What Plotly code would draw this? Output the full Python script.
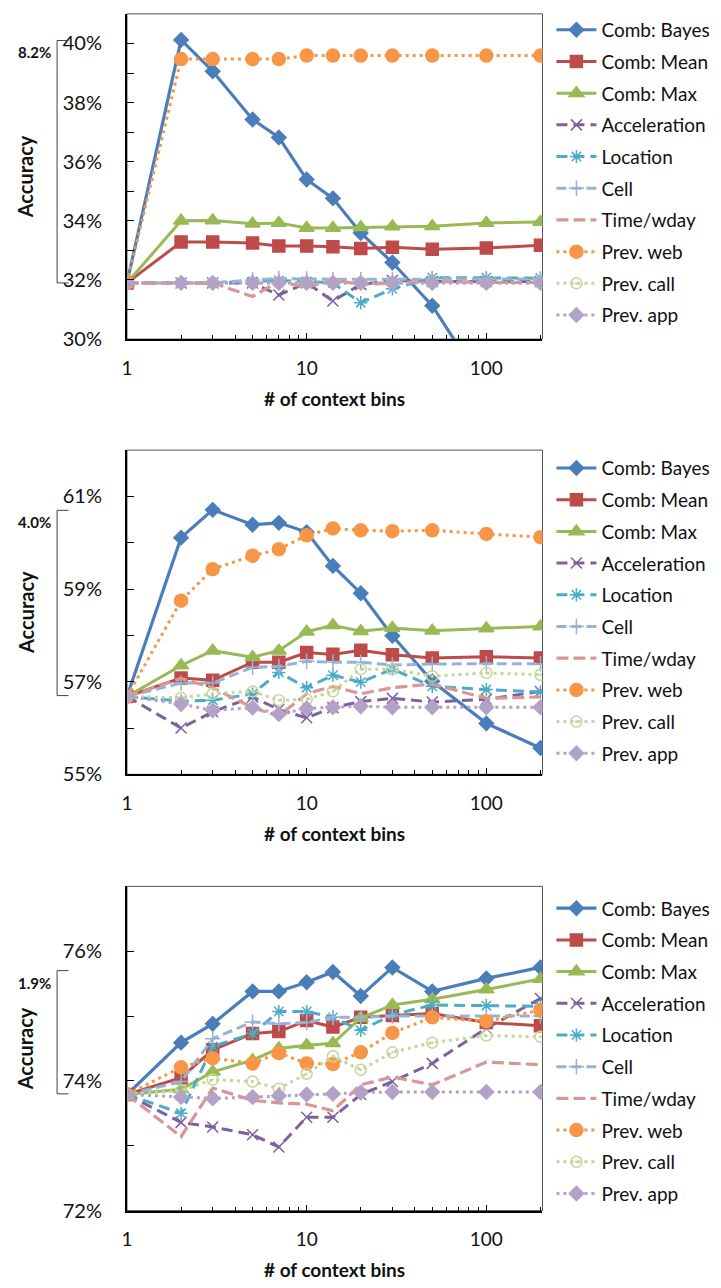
import plotly.graph_objects as go

# number of context bins (x positions shared by all panels)
bins = [1, 2, 3, 5, 7, 10, 14, 20, 30, 50, 100, 200]

series_names = ["Comb: Bayes", "Comb: Mean", "Comb: Max", "Acceleration", "Location",
                "Cell", "Time/wday", "Prev. web", "Prev. call", "Prev. app"]

# ---- panel 1 accuracy (%) ----
bayes_1 = [31.9, 40.12, 39.06, 37.43, 36.82, 35.40, 34.76, 33.59, 32.59, 31.13, 28.3, 26.0]
mean_1 = [31.9, 33.28, 33.28, 33.25, 33.15, 33.15, 33.12, 33.06, 33.11, 33.04, 33.08, 33.17]
max_1 = [31.9, 34.00, 34.01, 33.90, 33.93, 33.76, 33.76, 33.78, 33.81, 33.82, 33.93, 33.96]
accel_1 = [31.9, 31.90, 31.90, 31.90, 31.49, 31.90, 31.29, 31.85, 31.98, 31.95, 31.95, 31.95]
loc_1 = [31.9, 31.90, 31.90, 31.95, 31.98, 31.95, 31.90, 31.23, 31.70, 32.08, 32.08, 32.06]
cell_1 = [31.9, 31.90, 31.90, 32.00, 32.05, 32.03, 32.02, 32.02, 32.02, 32.03, 32.03, 32.03]
time_1 = [31.9, 31.90, 31.90, 31.44, 31.95, 31.75, 32.00, 31.85, 31.90, 31.95, 31.92, 31.92]
web_1 = [31.9, 39.47, 39.47, 39.47, 39.47, 39.59, 39.59, 39.59, 39.59, 39.59, 39.59, 39.59]
call_1 = [31.9, 31.90, 31.90, 31.90, 31.90, 31.90, 31.90, 31.90, 31.90, 31.90, 31.90, 31.90]
app_1 = [31.9, 31.90, 31.90, 31.90, 31.90, 31.90, 31.90, 31.90, 31.90, 31.90, 31.90, 31.90]

# ---- panel 2 accuracy (%) ----
bayes_2 = [56.68, 60.11, 60.71, 60.39, 60.43, 60.23, 59.50, 58.91, 57.99, 57.01, 56.10, 55.57]
mean_2 = [56.68, 57.08, 57.03, 57.42, 57.42, 57.63, 57.59, 57.68, 57.58, 57.51, 57.54, 57.51]
max_2 = [56.68, 57.35, 57.67, 57.53, 57.67, 58.08, 58.22, 58.09, 58.16, 58.10, 58.15, 58.19]
accel_2 = [56.68, 56.00, 56.35, 56.67, 56.40, 56.22, 56.44, 56.57, 56.64, 56.56, 56.62, 56.79]
loc_2 = [56.68, 56.58, 56.60, 56.74, 57.20, 56.87, 57.14, 56.99, 57.27, 56.90, 56.83, 56.78]
cell_2 = [56.68, 56.97, 56.97, 57.31, 57.33, 57.44, 57.42, 57.42, 57.36, 57.38, 57.39, 57.39]
time_2 = [56.68, 57.07, 56.87, 56.44, 56.26, 56.74, 56.90, 56.74, 56.87, 56.95, 56.64, 56.67]
web_2 = [56.68, 58.75, 59.43, 59.72, 59.86, 60.16, 60.31, 60.27, 60.25, 60.27, 60.19, 60.12]
call_2 = [56.68, 56.65, 56.74, 56.79, 56.60, 56.62, 56.79, 57.27, 57.27, 57.12, 57.19, 57.15]
app_2 = [56.68, 56.52, 56.38, 56.44, 56.30, 56.42, 56.45, 56.47, 56.45, 56.45, 56.45, 56.45]

# ---- panel 3 accuracy (%) ----
bayes_3 = [73.79, 74.59, 74.88, 75.38, 75.38, 75.52, 75.68, 75.31, 75.75, 75.38, 75.58, 75.75]
mean_3 = [73.79, 74.05, 74.48, 74.73, 74.76, 74.93, 74.83, 74.98, 75.01, 75.04, 74.90, 74.85]
max_3 = [73.79, 73.87, 74.14, 74.32, 74.50, 74.55, 74.58, 74.97, 75.17, 75.26, 75.41, 75.57]
accel_3 = [73.79, 73.36, 73.29, 73.17, 72.98, 73.44, 73.44, 73.79, 73.99, 74.27, 74.81, 75.27]
loc_3 = [73.79, 73.50, 74.53, 74.73, 75.07, 75.07, 74.98, 74.78, 75.02, 75.17, 75.16, 75.15]
cell_3 = [73.79, 73.99, 74.65, 74.91, 74.88, 74.90, 74.98, 74.98, 75.00, 75.00, 75.00, 75.00]
time_3 = [73.79, 73.14, 73.89, 73.70, 73.66, 73.64, 73.54, 73.94, 74.06, 73.94, 74.29, 74.25]
web_3 = [73.79, 74.21, 74.35, 74.27, 74.43, 74.27, 74.26, 74.44, 74.74, 74.98, 74.92, 75.09]
call_3 = [73.79, 73.85, 74.02, 73.99, 73.88, 74.11, 74.38, 74.17, 74.44, 74.59, 74.70, 74.68]
app_3 = [73.79, 73.75, 73.73, 73.75, 73.77, 73.79, 73.80, 73.82, 73.83, 73.83, 73.83, 73.83]

# y ranges, labelled ticks and the gain bracket of each panel
y_ranges = [(30, 41), (55, 62), (72, 77)]
y_major = [[30, 32, 34, 36, 38, 40], [55, 57, 59, 61], [72, 74, 76]]
gain_base = [31.9, 56.7, 73.8]
gain_value = [8.2, 4.0, 1.9]

panels = [
    [bayes_1, mean_1, max_1, accel_1, loc_1, cell_1, time_1, web_1, call_1, app_1],
    [bayes_2, mean_2, max_2, accel_2, loc_2, cell_2, time_2, web_2, call_2, app_2],
    [bayes_3, mean_3, max_3, accel_3, loc_3, cell_3, time_3, web_3, call_3, app_3],
]

# line / marker styling per series
styles = [
    dict(color="#4A7EBB", dash="solid", width=3.2, symbol="diamond", size=11),
    dict(color="#BE4B48", dash="solid", width=3.0, symbol="square", size=12),
    dict(color="#98B954", dash="solid", width=3.0, symbol="triangle-up", size=13),
    dict(color="#7D60A0", dash="11px,6px", width=3.0, symbol="x-thin-open", size=11),
    dict(color="#4BACC6", dash="11px,6px", width=3.0, symbol="asterisk-open", size=11),
    dict(color="#95B3D7", dash="10px,5px", width=3.0, symbol="cross-thin-open", size=11),
    dict(color="#DA9694", dash="12px,5px", width=3.2, symbol=None, size=0),
    dict(color="#F79646", dash="3px,4px", width=3.0, symbol="circle", size=13),
    dict(color="#C3D69B", dash="3px,4px", width=3.0, symbol="circle-open-dot", size=11),
    dict(color="#B3A2C7", dash="3px,4px", width=3.0, symbol="diamond", size=11),
]

W, H = 721, 1288
x_left, x_right = 122, 541
plot_boxes = [(14, 342), (454, 781), (894, 1221)]  # (top, bottom) in px
legend_tops = [11, 453, 897]  # px

font_family = "Lato, 'Open Sans', sans-serif"

fig = go.Figure()
legend_ids = ["legend", "legend2", "legend3"]
layout_axes = {}
shapes = []
annotations = []

for p, data in enumerate(panels):
    top, bottom = plot_boxes[p]
    xa = "x" if p == 0 else f"x{p + 1}"
    ya = "y" if p == 0 else f"y{p + 1}"
    for i, (name, vals) in enumerate(zip(series_names, data)):
        st = styles[i]
        marker = dict(color=st["color"], size=st["size"],
                      line=dict(color=st["color"], width=1.5))
        mode = "lines+markers" if st["symbol"] else "lines"
        if st["symbol"]:
            marker["symbol"] = st["symbol"]
        fig.add_trace(go.Scatter(
            x=bins, y=vals, name=name, mode=mode, xaxis=xa, yaxis=ya,
            line=dict(color=st["color"], width=st["width"], dash=st["dash"]),
            marker=marker, legend=legend_ids[p],
            legendgroup=f"g{p}_{i}", showlegend=True,
        ))

    y0 = 1 - bottom / H
    y1 = 1 - top / H
    xkey = "xaxis" if p == 0 else f"xaxis{p + 1}"
    ykey = "yaxis" if p == 0 else f"yaxis{p + 1}"
    layout_axes[xkey] = dict(
        type="log", domain=[x_left / W, x_right / W], anchor=ya,
        range=[0, 2.3125], tickvals=[1, 10, 100], ticktext=["1", "10", "100"],
        ticks="inside", ticklen=6, tickwidth=1, tickcolor="#000",
        minor=dict(ticks="inside", ticklen=4, tickwidth=1, tickcolor="#000",
                   tickvals=[2, 3, 4, 5, 6, 7, 8, 9, 20, 30, 40, 50, 60, 70, 80, 90, 200],
                   showgrid=False),
        showline=True, linecolor="#000", linewidth=2, showgrid=False, zeroline=False,
        tickfont=dict(family=font_family, size=19, color="#111"),
        ticklabelstandoff=11,
    )
    lo, hi = y_ranges[p]
    layout_axes[ykey] = dict(
        domain=[y0, y1], anchor=xa, range=[lo, hi],
        tickvals=y_major[p], ticktext=[f"{v}%" for v in y_major[p]],
        ticks="inside", ticklen=7, tickwidth=1, tickcolor="#000",
        minor=dict(ticks="inside", ticklen=7, tickwidth=1, tickcolor="#000",
                   dtick=1, showgrid=False),
        showline=True, linecolor="#000", linewidth=2, showgrid=False, zeroline=False,
        tickfont=dict(family=font_family, size=20, color="#111"),
        ticklabelstandoff=19,
    )

    # thin frame around the plot area
    shapes.append(dict(type="rect", xref="paper", yref="paper",
                       x0=x_left / W, x1=x_right / W, y0=y0, y1=y1,
                       line=dict(color="#555", width=1), layer="below"))

    # gain bracket on the left
    b_lo = gain_base[p]
    b_hi = gain_base[p] + gain_value[p]
    bx0, bx1 = 51.5 / W, 63 / W
    shapes.append(dict(type="path", xref="paper", yref=ya,
                       path=f"M {bx1},{b_hi} L {bx0},{b_hi} L {bx0},{b_lo} L {bx1},{b_lo}",
                       line=dict(color="#444", width=1)))
    annotations.append(dict(xref="paper", yref=ya, x=29 / W, y=b_hi, yshift=-12,
                            text=f"<b>{gain_value[p]:.1f}%</b>", showarrow=False,
                            xanchor="center", yanchor="middle",
                            font=dict(family=font_family, size=15, color="#111")))

    # axis titles
    annotations.append(dict(xref="paper", yref="paper", x=20 / W, y=(y0 + y1) / 2,
                            text="<b>Accuracy</b>", textangle=-90, showarrow=False,
                            xanchor="center", yanchor="middle",
                            font=dict(family=font_family, size=20, color="#111")))
    annotations.append(dict(xref="paper", yref="paper", x=(x_left + x_right) / 2 / W,
                            y=y0, yshift=-59, text="<b># of context bins</b>",
                            showarrow=False, xanchor="center", yanchor="middle",
                            font=dict(family=font_family, size=19, color="#111")))

legend_common = dict(
    xanchor="left", yanchor="top", x=550 / W, bgcolor="rgba(0,0,0,0)",
    font=dict(family=font_family, size=19, color="#111"),
    traceorder="grouped", tracegroupgap=4, itemwidth=40, itemclick=False,
    itemdoubleclick=False,
)
legends = {}
for p, lid in enumerate(legend_ids):
    legends[lid] = dict(legend_common, y=1 - legend_tops[p] / H)

fig.update_layout(
    width=W, height=H, margin=dict(l=0, r=0, t=0, b=0),
    paper_bgcolor="white", plot_bgcolor="white",
    shapes=shapes, annotations=annotations,
    **layout_axes, **legends,
)

fig.write_html("out.html")
